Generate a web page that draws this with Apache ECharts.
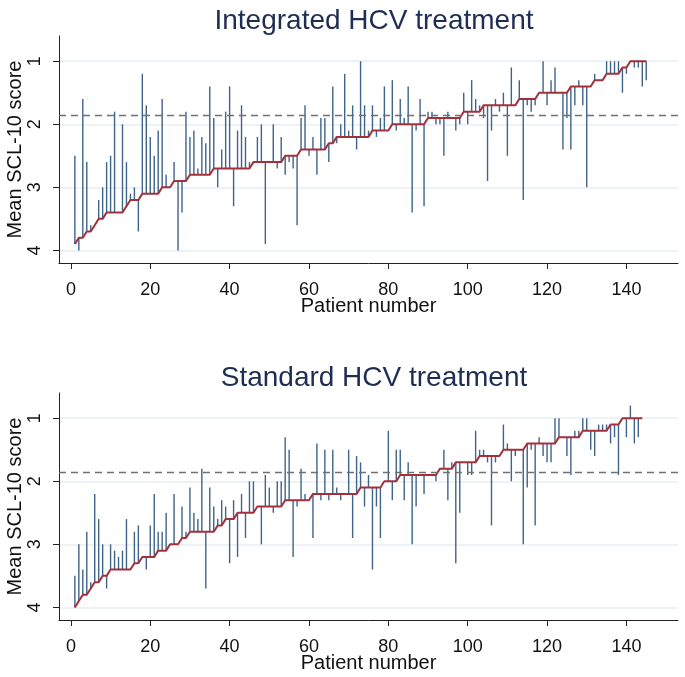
<!DOCTYPE html>
<html>
<head>
<meta charset="utf-8">
<script src="https://cdn.jsdelivr.net/npm/echarts@6/dist/echarts.min.js"></script>
<style>
html,body{margin:0;padding:0;background:#fff;}
#chart{width:685px;height:677px;}
</style>
</head>
<body>
<div id="chart"></div>
<script>
// ---- Data ----
const titles = ['Integrated HCV treatment', 'Standard HCV treatment'];
const xTicks = [0, 20, 40, 60, 80, 100, 120, 140];
const yTicks = [1, 2, 3, 4];
const cutoff = 1.85;

const integratedBaseline = [
3.9,3.8,3.8,3.7,3.7,3.6,3.5,3.5,3.4,3.4,
3.4,3.4,3.4,3.3,3.2,3.2,3.2,3.1,3.1,3.1,
3.1,3.1,3.0,3.0,3.0,2.9,2.9,2.9,2.9,2.8,
2.8,2.8,2.8,2.8,2.8,2.7,2.7,2.7,2.7,2.7,
2.7,2.7,2.7,2.7,2.7,2.6,2.6,2.6,2.6,2.6,
2.6,2.6,2.6,2.5,2.5,2.5,2.5,2.4,2.4,2.4,
2.4,2.4,2.4,2.4,2.3,2.3,2.2,2.2,2.2,2.2,
2.2,2.2,2.2,2.2,2.2,2.1,2.1,2.1,2.1,2.1,
2.0,2.0,2.0,2.0,2.0,2.0,2.0,2.0,2.0,1.9,
1.9,1.9,1.9,1.9,1.9,1.9,1.9,1.9,1.8,1.8,
1.8,1.8,1.8,1.7,1.7,1.7,1.7,1.7,1.7,1.7,
1.7,1.7,1.6,1.6,1.6,1.6,1.6,1.5,1.5,1.5,
1.5,1.5,1.5,1.5,1.5,1.4,1.4,1.4,1.4,1.4,
1.4,1.3,1.3,1.3,1.2,1.2,1.2,1.2,1.1,1.1,
1.0,1.0,1.0,1.0,1.0];
const integratedFollowup = [
2.5,4.0,1.6,2.6,3.6,3.6,3.2,3.0,2.6,2.5,
1.8,3.4,2.0,2.6,3.1,3.0,3.7,1.2,1.7,2.2,
2.5,2.1,1.6,2.8,3.0,2.6,4.0,3.4,1.8,2.2,
2.1,2.7,2.2,2.3,1.4,1.9,3.0,2.4,1.8,1.4,
3.3,2.1,1.7,2.2,2.6,2.6,2.2,2.0,3.9,2.6,
2.0,2.7,2.2,2.8,2.6,2.7,3.6,1.9,1.7,2.5,
2.2,2.8,1.9,1.9,2.6,1.4,2.3,2.0,1.2,2.1,
1.7,2.4,1.0,1.7,2.1,1.7,2.2,1.9,1.4,2.1,
1.3,2.1,1.6,1.9,1.4,3.4,2.1,1.6,3.3,1.8,
1.8,2.0,2.0,2.5,1.8,1.9,2.1,2.0,1.5,2.0,
1.3,1.6,1.7,1.9,2.9,2.1,1.6,1.8,1.5,2.5,
1.1,1.7,1.3,3.2,1.7,1.8,1.7,1.5,1.0,1.7,
1.3,1.1,1.5,2.4,1.9,2.4,1.7,1.3,1.7,3.0,
1.4,1.2,1.3,1.3,1.0,1.0,1.0,1.0,1.5,1.2,
1.0,1.1,1.1,1.4,1.3];

const standardBaseline = [
4.0,3.9,3.8,3.8,3.7,3.6,3.6,3.5,3.5,3.4,
3.4,3.4,3.4,3.4,3.4,3.3,3.3,3.2,3.2,3.2,
3.2,3.1,3.1,3.1,3.0,3.0,3.0,2.9,2.9,2.8,
2.8,2.8,2.8,2.8,2.8,2.8,2.7,2.7,2.6,2.6,
2.6,2.5,2.5,2.5,2.5,2.5,2.4,2.4,2.4,2.4,
2.4,2.4,2.4,2.3,2.3,2.3,2.3,2.3,2.3,2.3,
2.2,2.2,2.2,2.2,2.2,2.2,2.2,2.2,2.2,2.2,
2.2,2.2,2.1,2.1,2.1,2.1,2.1,2.1,2.0,2.0,
2.0,2.0,1.9,1.9,1.9,1.9,1.9,1.9,1.9,1.9,
1.9,1.9,1.8,1.8,1.8,1.8,1.7,1.7,1.7,1.7,
1.7,1.7,1.6,1.6,1.6,1.6,1.6,1.6,1.5,1.5,
1.5,1.5,1.5,1.5,1.4,1.4,1.4,1.4,1.4,1.4,
1.4,1.4,1.3,1.3,1.3,1.3,1.3,1.3,1.2,1.2,
1.2,1.2,1.2,1.2,1.2,1.1,1.1,1.1,1.0,1.0,
1.0,1.0,1.0,1.0];
const standardFollowup = [
3.5,3.0,3.4,2.8,3.6,2.2,2.6,3.0,3.7,3.0,
3.1,3.2,3.1,2.6,3.4,2.8,2.7,3.2,3.4,2.7,
2.2,2.8,2.8,2.5,3.0,2.2,3.0,2.4,2.8,2.1,
2.5,2.6,1.8,3.7,2.1,2.4,2.6,2.3,2.4,3.3,
2.3,3.2,2.2,2.9,2.0,2.0,2.4,3.0,1.9,2.1,
2.5,2.0,2.0,1.3,1.5,3.2,2.4,1.8,2.2,2.3,
2.9,1.4,2.3,1.5,2.3,1.5,2.1,2.3,2.2,1.5,
2.9,1.6,1.7,2.4,1.9,3.4,2.4,2.9,2.0,1.2,
2.3,1.5,1.5,2.3,1.7,3.0,2.4,1.9,2.2,1.9,
1.9,2.0,1.8,1.5,2.3,1.7,3.3,2.5,1.7,1.9,
1.9,1.2,1.5,1.5,1.7,2.7,1.7,1.6,1.1,1.4,
2.0,1.6,1.5,3.0,2.1,1.5,2.7,1.3,1.6,1.7,
1.7,1.0,1.0,1.3,1.6,1.9,1.2,1.2,1.0,1.0,
1.5,1.6,1.1,1.1,1.1,1.4,1.3,1.9,1.0,1.3,
0.8,1.4,1.3,1.0];

const baselines = [integratedBaseline, standardBaseline];
const followups = [integratedFollowup, standardFollowup];

// ---- Styling ----
const FONT = 'Liberation Sans, Arial, sans-serif';
const spikeColor = '#3f6389';
const lineColor = '#a3313a';
const gridColor = '#e6eef3';
const gridTops = [36, 393];
const titleTops = [2, 359];

const chart = echarts.init(document.getElementById('chart'), null, {renderer: 'canvas'});

function renderSpike(params, api) {
  const x = api.value(0), b = api.value(1), f = api.value(2);
  const p1 = api.coord([x, b]);
  const p2 = api.coord([x, f]);
  return {
    type: 'line',
    shape: {x1: p1[0], y1: p1[1], x2: p2[0], y2: p2[1]},
    style: {stroke: spikeColor, lineWidth: 1.4}
  };
}

const option = {
  backgroundColor: '#fff',
  animation: false,
  title: titles.map((t, i) => ({
    text: t,
    left: 369,
    textAlign: 'center',
    top: titleTops[i],
    textStyle: {fontFamily: FONT, fontSize: 28, fontWeight: 'normal', color: '#1e2d52'}
  })),
  grid: gridTops.map(t => ({left: 59, width: 619, top: t, height: 227, containLabel: false, outerBoundsMode: 'none'})),
  xAxis: [0, 1].map(i => ({
    type: 'value', gridIndex: i, min: -3, max: 153,
    name: 'Patient number', nameLocation: 'middle', nameGap: 33, nameMoveOverlap: false,
    nameTextStyle: {fontFamily: FONT, fontSize: 20, color: '#111'},
    axisLine: {show: true, onZero: false, lineStyle: {color: '#222', width: 1}},
    axisTick: {show: true, length: 6, customValues: xTicks, lineStyle: {color: '#222'}},
    axisLabel: {customValues: xTicks, margin: 18, fontFamily: FONT, fontSize: 18, color: '#111'},
    splitLine: {show: false}
  })),
  yAxis: [0, 1].map(i => ({
    type: 'value', gridIndex: i, min: 0.6, max: 4.2, inverse: true,
    name: 'Mean SCL-10 score', nameLocation: 'middle', nameGap: 34, nameMoveOverlap: false,
    nameTextStyle: {fontFamily: FONT, fontSize: 20, color: '#111'},
    axisLine: {show: true, onZero: false, lineStyle: {color: '#222', width: 1}},
    axisTick: {show: true, length: 6, customValues: yTicks, lineStyle: {color: '#222'}},
    axisLabel: {customValues: yTicks, rotate: 90, margin: 15, fontFamily: FONT, fontSize: 18, color: '#111'},
    splitLine: {show: true, lineStyle: {color: gridColor, width: 1.5}}
  })),
  series: []
};

[0, 1].forEach(i => {
  const base = baselines[i], fol = followups[i];
  const spikeData = base.map((b, k) => [k + 1, b, fol[k]]);
  const lineData = base.map((b, k) => [k + 1, b]);
  option.series.push({
    type: 'custom', xAxisIndex: i, yAxisIndex: i,
    renderItem: renderSpike,
    encode: {x: 0, y: [1, 2]},
    data: spikeData, z: 2, silent: true
  });
  option.series.push({
    type: 'line', xAxisIndex: i, yAxisIndex: i,
    data: lineData, showSymbol: false, symbol: 'none',
    lineStyle: {color: lineColor, width: 2}, z: 3, silent: true,
    markLine: {
      silent: true, symbol: 'none', label: {show: false},
      lineStyle: {color: '#707070', type: [7, 5], width: 1.3},
      data: [{yAxis: cutoff}]
    }
  });
});

chart.setOption(option);
</script>
</body>
</html>
